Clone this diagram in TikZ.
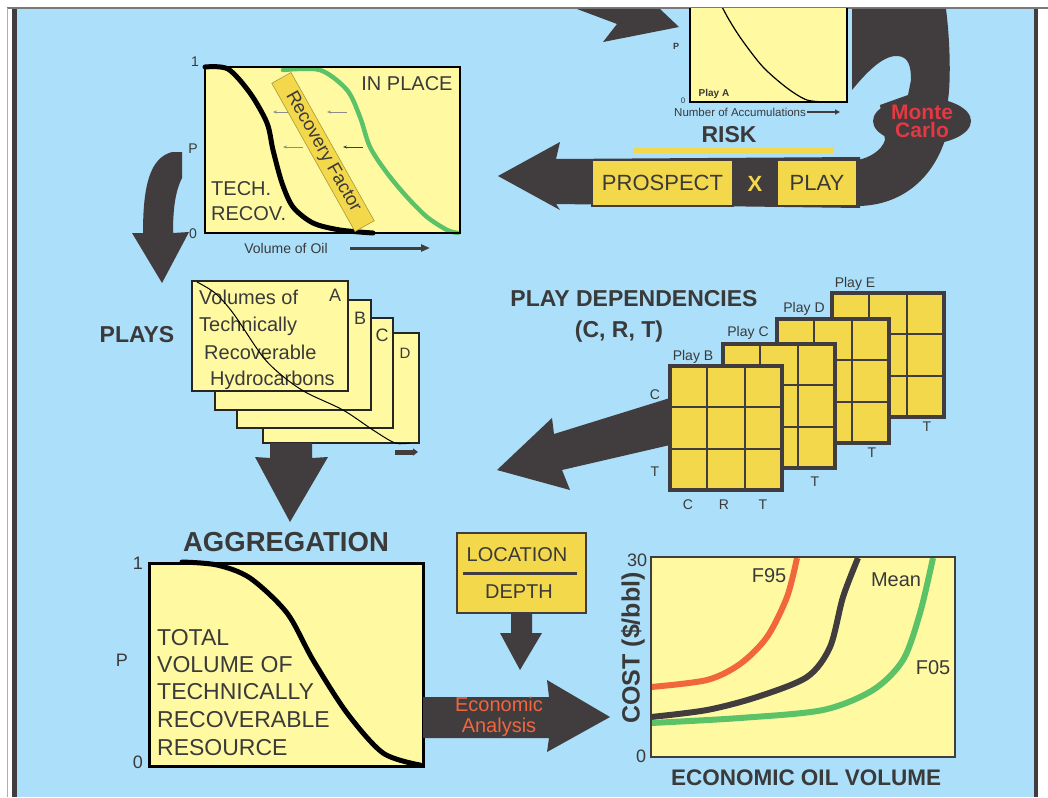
\documentclass[tikz,border=0pt]{standalone}
\usepackage{fontspec}
\setmainfont{Liberation Sans}
\usetikzlibrary{arrows.meta,shapes.geometric}
\definecolor{sky}{RGB}{172,223,249}
\definecolor{ink}{RGB}{65,60,62}
\definecolor{paper}{RGB}{255,250,162}
\definecolor{gold}{RGB}{244,216,76}
\definecolor{txt}{RGB}{58,58,58}
\definecolor{mcred}{RGB}{228,56,66}
\definecolor{orng}{RGB}{242,102,62}
\definecolor{grn}{RGB}{92,194,104}
\definecolor{frame}{RGB}{120,120,120}
\newcommand\fsz[2]{\fontsize{#1}{#2}\selectfont}
\begin{document}
\begin{tikzpicture}[x=1pt,y=-1pt,
  lbl/.style={text=txt, inner sep=0pt},
  hd/.style={text=txt, inner sep=0pt, font=\bfseries\fsz{23}{26}},
  blockarrow/.style={fill=ink},
  goldbox/.style={fill=gold, draw=ink, line width=2},
  curve/.style={line width=5, line cap=round, line join=round},
  thinarrow/.style={line width=0.9, -{Stealth[length=4pt,width=3pt]}}]
\useasboundingbox (0,0) rectangle (1048,797);
\fill[white] (0,0) rectangle (1048,797);
% page frame
\draw[frame, line width=1.5] (7,8) -- (1048,8);
\draw[frame!60, line width=0.8] (7,8) -- (7,797);
\fill[ink] (12,9) rectangle (17,797);
\fill[ink] (1034,9) rectangle (1038,797);
\fill[sky] (17,9) rectangle (1034,797);

\begin{scope}
\clip (17,9) rectangle (1034,797);

% ---------- arrow entering at the top ----------
\fill[blockarrow] (577,9) -- (660,9) -- (679,27) -- (603,42) -- (617,24) -- cycle;

% ---------- play A curve box ----------
\fill[paper] (690,-10) rectangle (847,102);
\draw[black, line width=1.6] (690,-10) -- (690,102) -- (847,102) -- (847,-10);
\draw[black, line width=1.2] plot[smooth] coordinates {(716,-5) (728,18) (742,40) (763,67) (787,88) (807,100) (828,102)};
\node[lbl, font=\bfseries\fsz{9}{9}] (pA) at (676,46) {P};
\node[lbl, font=\fsz{8}{8}] (zA) at (683,101) {0};
\node[lbl, font=\bfseries\fsz{10}{10}] (playA) at (714,94) {Play A};
\node[lbl, font=\fsz{11.5}{12}, anchor=west] (nacc) at (674,112) {Number of Accumulations};
\draw[ink, line width=2, -{Triangle[length=5pt,width=5pt]}] (nacc.east) ++(1,0) -- (840,112);

% ---------- Monte Carlo loop arrow ----------
\fill[blockarrow] (852,9) -- (946,9)
  .. controls (950,40) and (951,80) .. (948,100) -- (945,140)
  .. controls (930,185) and (895,206) .. (857,206) -- (857,160)
  .. controls (870,158) and (882,150) .. (885,140) -- (880,105) -- (908,95) -- (911,80)
  .. controls (911,65) and (908,57) .. (898,56)
  .. controls (885,55) and (870,68) .. (852,90) -- cycle;
\node[ellipse, fill=ink, minimum width=98, minimum height=47, inner sep=0pt,
      text=mcred, font=\bfseries\fsz{21}{18}, align=center] (mc) at (922,121) {Monte\\Carlo};

% risk bar with arrow to the left
\fill[blockarrow] (860,157) -- (556,159) -- (560,142) -- (498,176) -- (560,210) -- (556,204) -- (860,208) -- cycle;
\node[goldbox, minimum width=141, minimum height=46, inner sep=0pt,
      text=txt, font=\fsz{22}{22}] (prospect) at (662.5,183) {PROSPECT};
\node[goldbox, minimum width=80, minimum height=46, inner sep=0pt,
      text=txt, font=\fsz{22}{22}] (play) at (817,183) {PLAY};
\node[inner sep=0pt, text=gold, font=\bfseries\fsz{22}{22}] (times) at (755,184) {X};
\node[hd, font=\bfseries\fsz{23}{23}] (risk) at (729,135) {RISK};
\draw[gold, line width=5] (633,150) -- (833,150);

% ---------- in place / recovery box ----------
\fill[paper] (205,67) rectangle (460,233);
\draw[black, curve] plot[smooth] coordinates {(205,67) (228,69) (250,93) (267,123) (273,150) (282,183) (293,207) (313,223) (340,230) (373,233)};
\draw[grn, line width=4.5, line cap=round] plot[smooth] coordinates {(283,70) (320,70) (347,90) (360,117) (370,147) (387,173) (407,197) (427,217) (447,230) (458,233)};
\draw[black!45, thinarrow] (288,112) -- (273,112);
\draw[black!45, thinarrow] (347,112) -- (327,112);
\draw[black!45, thinarrow] (303,147) -- (283,147);
\draw[ink, thinarrow] (363,147) -- (343,147);
\node[rotate=-60.7, fill=gold, draw=gold!70!black, line width=0.6, minimum width=170, minimum height=22,
      inner sep=0pt, text=txt, font=\fsz{18.5}{18}] (rf) at (323,152) {Recovery Factor};
\draw[black, line width=2.5] (205,67) rectangle (460,233);
\node[lbl, font=\fsz{20}{20}] (inplace) at (407,84) {IN PLACE};
\node[lbl, font=\fsz{20}{25}, align=left, anchor=north west] (tech) at (211,181) {TECH.\\RECOV.};
\node[lbl, font=\fsz{14}{14}] (one1) at (195,62) {1};
\node[lbl, font=\fsz{14}{14}] (p1) at (193,149) {P};
\node[lbl, font=\fsz{14}{14}] (zero1) at (193,234) {0};
\node[lbl, font=\fsz{14}{14}] (vol) at (286,248) {Volume of Oil};
\draw[ink, line width=3, -{Triangle[length=9pt,width=7pt]}] (350,248) -- (430,248);

% curved arrow down to the plays
\fill[blockarrow] (182,152) -- (182,178) .. controls (175,192) and (173,210) .. (173,233)
  -- (189,232) -- (162,283) -- (132,233) -- (143,233)
  .. controls (143,185) and (150,158) .. (172,152) -- cycle;

% ---------- plays ----------
\node[hd] (plays) at (137,335) {PLAYS};
\foreach \cx/\cy/\nm in {263/333/D, 237/318/C, 215/300/B, 192/281/A}{
  \fill[paper] (\cx,\cy) rectangle ++(156,110);
  \draw[black!85, line width=1.5] (\cx,\cy) rectangle ++(156,110);
}
\node[lbl, font=\fsz{18}{18}] (cA) at (335,295) {A};
\node[lbl, font=\fsz{18}{18}] (cB) at (360,318) {B};
\node[lbl, font=\fsz{18}{18}] (cC) at (382,335) {C};
\node[lbl, font=\fsz{15}{15}] (cD) at (405,353) {D};
\node[lbl, font=\fsz{20}{20}, anchor=west] (v1) at (199,297) {Volumes of};
\node[lbl, font=\fsz{20}{20}, anchor=west] (v2) at (199,326) {Technically};
\node[lbl, font=\fsz{20}{20}, anchor=west] (v3) at (204,352) {Recoverable};
\node[lbl, font=\fsz{20}{20}, anchor=west] (v4) at (210,380) {Hydrocarbons};
\draw[black, line width=1] plot[smooth] coordinates {(197,282) (215,293) (233,313) (263,357) (285,378) (307,393) (343,410) (373,430) (395,443) (410,443)};
\draw[ink, line width=5, -{Triangle[length=5pt,width=7pt]}] (395,452) -- (418,452);

% arrow down to aggregation
\fill[blockarrow] (270,443) -- (312,443) -- (312,458) -- (328,457) -- (290,522) -- (255,457) -- (270,458) -- cycle;

% ---------- play dependencies ----------
\node[hd] (pd) at (634,299) {PLAY DEPENDENCIES};
\node[hd] (crt) at (619,332) {(C, R, T)};
\foreach \gx/\gy/\nm/\lx/\ly/\tx/\ty in {832/293/E/855/284/927/427, 777/319/D/804/309/872/453, 723/344/C/748/333/815/482, 670/366/B/693/357/763/505}{
  \fill[gold] (\gx,\gy) rectangle ++(112,124);
  \draw[ink, line width=1.8] (\gx+37.3,\gy) -- ++(0,124) (\gx+74.7,\gy) -- ++(0,124)
    (\gx,\gy+41.3) -- ++(112,0) (\gx,\gy+82.7) -- ++(112,0);
  \draw[ink, line width=4] (\gx,\gy) rectangle ++(112,124);
  \node[lbl, font=\fsz{14}{14}] at (\lx,\ly) {Play \nm};
  \node[lbl, font=\fsz{14}{14}] at (\tx,\ty) {T};
}
\node[lbl, font=\fsz{14}{14}] (bc) at (655,395) {C};
\node[lbl, font=\fsz{14}{14}] (bt) at (655,472) {T};
\node[lbl, font=\fsz{14}{14}] (xc) at (688,505) {C};
\node[lbl, font=\fsz{14}{14}] (xr) at (724,505) {R};
\fill[blockarrow] (670,398) -- (554,434) -- (552,418) -- (497,470) -- (570,490) -- (562,470) -- (670,445) -- cycle;

% ---------- aggregation ----------
\node[hd, font=\bfseries\fsz{27.5}{27}] (agg) at (286,542) {AGGREGATION};
\fill[paper] (149,563) rectangle (423,766);
\draw[black, curve] plot[smooth] coordinates {(182,562) (217,565) (250,578) (287,613) (313,660) (347,713) (383,753) (420,765)};
\draw[black, line width=3] (149,563) rectangle (423,766);
\node[lbl, font=\fsz{18}{18}] (one2) at (138,563) {1};
\node[lbl, font=\fsz{18}{18}] (p2) at (122,660) {P};
\node[lbl, font=\fsz{18}{18}] (zero2) at (138,762) {0};
\foreach \t/\yy in {TOTAL/638, VOLUME OF/665, TECHNICALLY/692, RECOVERABLE/720, RESOURCE/748}{
  \node[lbl, font=\fsz{23}{23}, anchor=west] at (157,\yy) {\t};
}

% economic analysis arrow
\fill[blockarrow] (423,697) -- (549,697) -- (547,680) -- (610,717) -- (547,752) -- (549,738) -- (423,738) -- cycle;
\node[inner sep=0pt, text=orng, font=\fsz{20}{21}, align=center] (ea) at (499,717) {Economic\\Analysis};

% location / depth
\node[goldbox, line width=2.5, minimum width=129, minimum height=80, inner sep=0pt] (loc) at (521.5,573) {};
\node[lbl, font=\fsz{20}{20}] (locT) at (517,555) {LOCATION};
\draw[ink, line width=3] (463,573) -- (577,573);
\node[lbl, font=\fsz{20}{20}] (dep) at (519,592) {DEPTH};
\fill[blockarrow] (511,614) -- (532,614) -- (532,633) -- (542,633) -- (520,670) -- (500,633) -- (511,633) -- cycle;

% ---------- cost chart ----------
\fill[paper] (651,557) rectangle (955,757);
\begin{scope}
\clip (651,557) rectangle (955,757);
\draw[orng, line width=6] plot[smooth] coordinates {(651,687) (707,680) (740,664) (767,637) (787,597) (797,558)};
\draw[ink, line width=6] plot[smooth] coordinates {(651,717) (707,710) (757,697) (807,677) (830,647) (843,597) (858,558)};
\draw[grn, line width=6] plot[smooth] coordinates {(651,723) (740,718) (823,710) (873,690) (903,660) (920,613) (933,558)};
\end{scope}
\draw[ink, line width=2.5] (651,557) rectangle (955,757);
\node[lbl, font=\fsz{18}{18}] (c30) at (637,560) {30};
\node[lbl, font=\fsz{18}{18}] (c0) at (641,756) {0};
\node[lbl, font=\bfseries\fsz{25}{25}, rotate=90] (cost) at (633,648) {COST (\$/bbl)};
\node[lbl, font=\bfseries\fsz{22.5}{22}] (eov) at (806,778) {ECONOMIC OIL VOLUME};
\node[lbl, font=\fsz{20}{20}] (f95) at (769,576) {F95};
\node[lbl, font=\fsz{20}{20}] (mean) at (896,580) {Mean};
\node[lbl, font=\fsz{20}{20}] (f05) at (933,668) {F05};
\end{scope}
\end{tikzpicture}
\end{document}
